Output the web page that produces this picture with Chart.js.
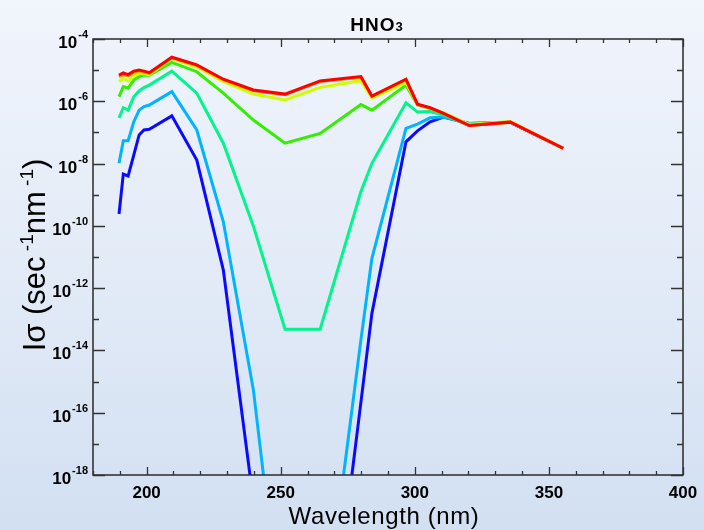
<!DOCTYPE html>
<html>
<head>
<meta charset="utf-8">
<script src="https://cdn.jsdelivr.net/npm/chart.js@4.4.1/dist/chart.umd.min.js"></script>
<style>
  html, body { margin: 0; padding: 0; }
  body { width: 704px; height: 530px; background: linear-gradient(to bottom, #f1f5fc 0%, #e3ebf7 50%, #d2e0f2 100%); overflow: hidden; }
  #wrap { width: 704px; height: 530px; position: relative; }
</style>
</head>
<body>
<div id="wrap"><canvas id="c" width="704" height="530"></canvas></div>
<script>
// Wavelengths (nm)
const wavelengths = [189.7, 191.3, 193.1, 195.2, 197.2, 199.0, 201.0, 209.4, 218.7, 228.6, 239.8, 251.6, 264.7, 279.9, 284.0, 296.7, 301.0, 305.7, 310.7, 320.3, 335.6, 355.3];

// I*sigma (sec^-1 nm^-1), one array per curve (bottom to top)
const seriesBlue      = [2.4e-10, 4.6e-9, 4.0e-9, 1.86e-8, 8.3e-8, 1.2e-7, 1.26e-7, 3.4e-7, 1.29e-8, 3.8e-12, 1.45e-19, 6.3e-27, 6.3e-27, 2.14e-16, 1.55e-13, 5.0e-8, 1.12e-7, 2.19e-7, 3.1e-7, 1.95e-7, 2.14e-7, 3.1e-8];
const seriesSkyBlue   = [1.02e-8, 5.4e-8, 5.4e-8, 2.19e-7, 5.2e-7, 6.8e-7, 7.6e-7, 2.04e-6, 1.2e-7, 1.35e-10, 5.4e-16, 1.4e-24, 1.4e-24, 2.19e-14, 9.1e-12, 1.35e-7, 1.86e-7, 2.95e-7, 3.1e-7, 1.95e-7, 2.14e-7, 3.1e-8];
const seriesSpring    = [2.95e-7, 6.2e-7, 5.2e-7, 1.38e-6, 2.14e-6, 2.75e-6, 3.3e-6, 9.3e-6, 1.82e-6, 4.5e-8, 9.8e-11, 4.8e-14, 4.8e-14, 1.26e-9, 1.02e-8, 8.9e-7, 4.5e-7, 4.7e-7, 3.6e-7, 1.66e-7, 2.14e-7, 3.1e-8];
const seriesGreen     = [1.41e-6, 2.95e-6, 2.63e-6, 4.8e-6, 6.2e-6, 6.9e-6, 6.9e-6, 1.78e-5, 8.9e-6, 1.82e-6, 2.5e-7, 4.5e-8, 9.3e-8, 7.9e-7, 5.2e-7, 3.3e-6, 7.6e-7, 6.0e-7, 4.1e-7, 1.74e-7, 2.14e-7, 3.16e-8];
const seriesYellow    = [4.3e-6, 5.5e-6, 4.5e-6, 6.5e-6, 7.9e-6, 7.6e-6, 7.2e-6, 2.34e-5, 1.26e-5, 4.3e-6, 1.7e-6, 1.1e-6, 2.8e-6, 4.6e-6, 1.26e-6, 4.0e-6, 7.9e-7, 5.9e-7, 4.2e-7, 1.82e-7, 2.24e-7, 3.16e-8];
const seriesOrange    = [6.2e-6, 7.1e-6, 6.5e-6, 8.5e-6, 9.3e-6, 8.7e-6, 7.9e-6, 2.5e-5, 1.41e-5, 4.9e-6, 2.19e-6, 1.62e-6, 4.3e-6, 5.9e-6, 1.41e-6, 5.0e-6, 7.9e-7, 6.0e-7, 4.1e-7, 1.66e-7, 2.14e-7, 3.1e-8];
const seriesRed       = [6.9e-6, 8.1e-6, 7.2e-6, 9.3e-6, 1.0e-5, 9.3e-6, 8.3e-6, 2.6e-5, 1.48e-5, 5.1e-6, 2.3e-6, 1.7e-6, 4.5e-6, 6.2e-6, 1.48e-6, 5.1e-6, 8.1e-7, 6.2e-7, 4.1e-7, 1.66e-7, 2.14e-7, 3.1e-8];

const seriesList = [seriesBlue, seriesSkyBlue, seriesSpring, seriesGreen, seriesYellow, seriesOrange, seriesRed];
const seriesColors = ['#0a0aff', '#00b4ff', '#00f58c', '#33ee00', '#ccff00', '#ff9900', '#ff0000'];

// Axis ticks
const xMajorTicks = [200, 250, 300, 350, 400];
const xTickLabels = ['200', '250', '300', '350', '400'];
const yExponents = [-18, -17, -16, -15, -14, -13, -12, -11, -10, -9, -8, -7, -6, -5, -4];
const yLabelExponents = ['-18', '-16', '-14', '-12', '-10', '-8', '-6', '-4'];

const chartTitle = 'HNO';
const chartTitleSub = '3';
const xTitle = 'Wavelength (nm)';

const datasets = seriesList.map((vals, i) => ({
  data: wavelengths.map((w, j) => ({ x: w, y: vals[j] })),
  borderColor: seriesColors[i],
  backgroundColor: seriesColors[i],
  borderWidth: 3,
  pointRadius: 0,
  tension: 0,
  fill: false,
  order: seriesList.length - 1 - i
}));

const FONT = '"Liberation Sans", Arial, Helvetica, sans-serif';

const decor = {
  id: 'decor',
  afterDatasetsDraw(chart) {
    const ctx = chart.ctx;
    const { left, right, top, bottom } = chart.chartArea;
    const xs = chart.scales.x, ys = chart.scales.y;
    ctx.save();
    ctx.strokeStyle = '#2a2a2a';
    ctx.lineWidth = 1.5;
    ctx.strokeRect(left, top, right - left, bottom - top);

    // x ticks (bottom and top, pointing inward)
    ctx.lineWidth = 1.3;
    ctx.strokeStyle = '#333';
    for (let v = 180; v <= 400; v += 10) {
      const px = Math.round(xs.getPixelForValue(v)) + 0.5;
      const len = (v % 50 === 0) ? 8 : 4;
      ctx.beginPath();
      ctx.moveTo(px, bottom); ctx.lineTo(px, bottom - len);
      ctx.moveTo(px, top); ctx.lineTo(px, top + len);
      ctx.stroke();
    }
    // y ticks (left and right, inward)
    yExponents.forEach(e => {
      const py = Math.round(ys.getPixelForValue(Math.pow(10, e))) + 0.5;
      const len = (e % 2 === 0) ? 12 : 6;
      ctx.beginPath();
      ctx.moveTo(left, py); ctx.lineTo(left + len, py);
      ctx.moveTo(right, py); ctx.lineTo(right - len, py);
      ctx.stroke();
    });

    ctx.fillStyle = '#000';
    // x tick labels
    ctx.font = 'bold 17px ' + FONT;
    ctx.textAlign = 'center';
    ctx.textBaseline = 'middle';
    xMajorTicks.forEach((v, i) => {
      ctx.fillText(xTickLabels[i], xs.getPixelForValue(v), bottom + 18);
    });

    // y tick labels: 10^e
    yLabelExponents.forEach(es => {
      const py = ys.getPixelForValue(Math.pow(10, Number(es)));
      ctx.font = 'bold 11px ' + FONT;
      const ew = ctx.measureText(es).width;
      const xr = left - 5;
      ctx.textAlign = 'right';
      ctx.textBaseline = 'alphabetic';
      ctx.fillText(es, xr, py - 1);
      ctx.font = 'bold 17px ' + FONT;
      ctx.fillText('10', xr - ew - 1, py + 9);
    });

    // title
    ctx.textAlign = 'left';
    ctx.textBaseline = 'alphabetic';
    ctx.font = 'bold 19px ' + FONT;
    ctx.letterSpacing = '1px';
    const tw = ctx.measureText(chartTitle).width;
    ctx.font = 'bold 13px ' + FONT;
    const sw = ctx.measureText(chartTitleSub).width;
    const tcx = 377;
    let tx = tcx - (tw + sw) / 2;
    ctx.font = 'bold 19px ' + FONT;
    ctx.fillText(chartTitle, tx, 30.5);
    ctx.font = 'bold 13px ' + FONT;
    ctx.fillText(chartTitleSub, tx + tw, 31);
    ctx.letterSpacing = '0px';

    // x axis title
    ctx.font = '24px ' + FONT;
    ctx.textAlign = 'center';
    ctx.letterSpacing = '0.6px';
    ctx.fillText(xTitle, 384, 524);
    ctx.letterSpacing = '0px';

    // y axis title (rotated), with superscripts
    ctx.save();
    ctx.translate(45, 255);
    ctx.rotate(-Math.PI / 2);
    const parts = [
      { t: 'I\u03C3 (sec', sup: false },
      { t: ' -1', sup: true },
      { t: 'nm', sup: false },
      { t: ' -1', sup: true },
      { t: ')', sup: false }
    ];
    const big = '31px ', small = '19px ';
    let total = 0;
    parts.forEach(p => { ctx.font = (p.sup ? small : big) + FONT; p.w = ctx.measureText(p.t).width; total += p.w; });
    let px0 = -total / 2;
    ctx.textAlign = 'left';
    parts.forEach(p => {
      ctx.font = (p.sup ? small : big) + FONT;
      ctx.fillText(p.t, px0, p.sup ? -12 : 0);
      px0 += p.w;
    });
    ctx.restore();
    ctx.restore();
  }
};

new Chart(document.getElementById('c'), {
  type: 'line',
  data: { datasets },
  options: {
    responsive: false,
    animation: false,
    layout: { padding: { left: 93, right: 21, top: 39, bottom: 55 } },
    plugins: { legend: { display: false }, title: { display: false }, tooltip: { enabled: false } },
    scales: {
      x: { type: 'linear', min: 180, max: 400, display: false },
      y: { type: 'logarithmic', min: 1e-18, max: 1e-4, display: false }
    }
  },
  plugins: [decor]
});
</script>
</body>
</html>
